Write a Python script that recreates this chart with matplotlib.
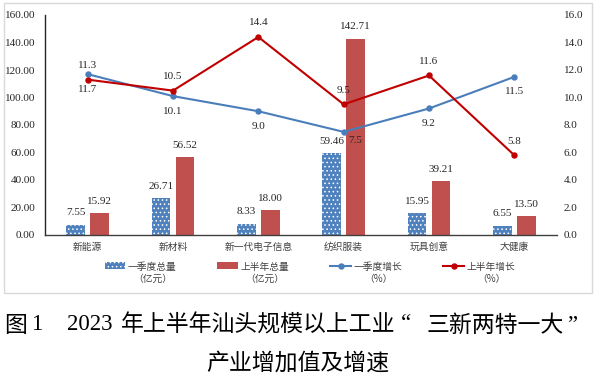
import matplotlib
matplotlib.use("Agg")
import matplotlib.pyplot as plt
from matplotlib.patches import Rectangle
import numpy as np

categories = ["新能源", "新材料", "新一代电子信息", "纺织服装", "玩具创意", "大健康"]
q1_total = [7.55, 26.71, 8.33, 59.46, 15.95, 6.55]
h1_total = [15.92, 56.52, 18.00, 142.71, 39.21, 13.50]
q1_growth = [11.7, 10.1, 9.0, 7.5, 9.2, 11.5]
h1_growth = [11.3, 10.5, 14.4, 9.5, 11.6, 5.8]
left_ticks = [0, 20, 40, 60, 80, 100, 120, 140, 160]
right_ticks = [0, 2, 4, 6, 8, 10, 12, 14, 16]
legend_labels = ["一季度总量\n（亿元）", "上半年总量\n（亿元）", "一季度增长\n（%）", "上半年增长\n（%）"]

SERIF = ["Liberation Serif", "Noto Sans CJK SC"]
CJK = ["Noto Sans CJK SC", "DejaVu Sans"]

BLUE_BAR = "#4F81BD"
RED_BAR = "#C0504D"
BLUE_LINE = "#4A7EBB"
RED_LINE = "#C00000"

plt.rcParams["hatch.linewidth"] = 0.6

W, H = 596, 383
fig = plt.figure(figsize=(W / 100, H / 100), dpi=100)

# outer border
fig.patches.append(Rectangle((4 / W, 1 - 293 / H), 588 / W, 290 / H, transform=fig.transFigure,
                             fill=False, edgecolor="#D9D9D9", linewidth=1.0))

ax_l, ax_r, ax_t, ax_b = 45, 557, 15, 235
ax = fig.add_axes([ax_l / W, 1 - ax_b / H, (ax_r - ax_l) / W, (ax_b - ax_t) / H])
ax2 = ax.twinx()

x = np.arange(len(categories))
bw = 0.22
off = 0.14
b1 = ax.bar(x - off, q1_total, bw, color=BLUE_BAR, edgecolor="white", hatch="....", linewidth=0,
            label=legend_labels[0], zorder=2)
b2 = ax.bar(x + off, h1_total, bw, color=RED_BAR, linewidth=0, label=legend_labels[1], zorder=2)

for xi, v in zip(x - off, q1_total):
    ax.annotate(f"{v:.2f}", (xi, v), xytext=(0, 12), textcoords="offset pixels",
                ha="center", va="center", fontsize=8, family=SERIF, color="#262626")
for xi, v in zip(x + off, h1_total):
    ax.annotate(f"{v:.2f}", (xi, v), xytext=(0, 12), textcoords="offset pixels",
                ha="center", va="center", fontsize=8, family=SERIF, color="#262626")

ax.set_xlim(-0.5, len(categories) - 0.5)
ax.set_ylim(0, 160)
ax.set_yticks(left_ticks)
ax.set_yticklabels([f"{t:.2f}" for t in left_ticks], family=SERIF, fontsize=8, color="#262626")
ax.set_xticks(x)
ax.set_xticklabels(categories, family=CJK, fontsize=7, color="#404040")
ax.tick_params(axis="both", length=0)
ax.tick_params(axis="y", pad=7)
ax.tick_params(axis="x", pad=5)
for s in ["top", "right"]:
    ax.spines[s].set_visible(False)
ax.spines["left"].set_color("#262626")
ax.spines["left"].set_linewidth(1.0)
ax.spines["bottom"].set_color("#404040")
ax.spines["bottom"].set_linewidth(1.0)

l1, = ax2.plot(x, q1_growth, color=BLUE_LINE, lw=1.5, marker="o", ms=3.6, label=legend_labels[2], zorder=3)
l2, = ax2.plot(x, h1_growth, color=RED_LINE, lw=1.5, marker="o", ms=3.6, label=legend_labels[3], zorder=3)
ax2.set_ylim(0, 16)
ax2.set_yticks(right_ticks)
ax2.set_yticklabels([f"{t:.1f}" for t in right_ticks], family=SERIF, fontsize=8, color="#262626")
ax2.tick_params(axis="y", length=0, pad=5)
for s in ["top", "right", "left", "bottom"]:
    ax2.spines[s].set_visible(False)

for i, v in enumerate(h1_growth):
    ax2.annotate(f"{v:.1f}", (i, v), xytext=(0, 14), textcoords="offset pixels",
                 ha="center", va="center", fontsize=8, family=SERIF, color="#262626")
for i, v in enumerate(q1_growth):
    dx = 12 if i == 3 else 0
    dy = -15 if i != 3 else -9
    ax2.annotate(f"{v:.1f}", (i, v), xytext=(dx, dy), textcoords="offset pixels",
                 ha="center", va="center", fontsize=8, family=SERIF, color="#262626")

leg = fig.legend([b1, b2, l1, l2], legend_labels, loc="center",
                 bbox_to_anchor=(310 / W, 1 - 273 / H), ncol=4, frameon=False,
                 prop={"family": CJK, "size": 7}, handlelength=2.1, handleheight=0.7,
                 handletextpad=0.3, columnspacing=4.2)
for t in leg.get_texts():
    t.set_multialignment("center")
    t.set_color("#404040")
try:
    for col in leg._legend_handle_box.get_children():
        for item in col.get_children():
            item.align = "top"
except Exception:
    pass

# Title (pieces placed to mimic the justified CJK layout)
FS = 16.5
ty = 1 - 325 / H
def tpiece(px, s, fam):
    fig.text(px / W, ty, s, ha="left", va="center", fontsize=FS, family=fam,
             fontweight="medium", color="black")

tpiece(4, "图", CJK)
tpiece(31, "1", SERIF)
tpiece(67, "2023", SERIF)
tpiece(121, "年上半年汕头规模以上工业", CJK)
tpiece(401, "“", SERIF)
tpiece(427, "三新两特一大", CJK)
tpiece(567, "”", SERIF)
fig.text(298 / W, 1 - 363 / H, "产业增加值及增速",
         ha="center", va="center", fontsize=FS, family=CJK, fontweight="medium", color="black")

fig.savefig("out.png", dpi=100)
